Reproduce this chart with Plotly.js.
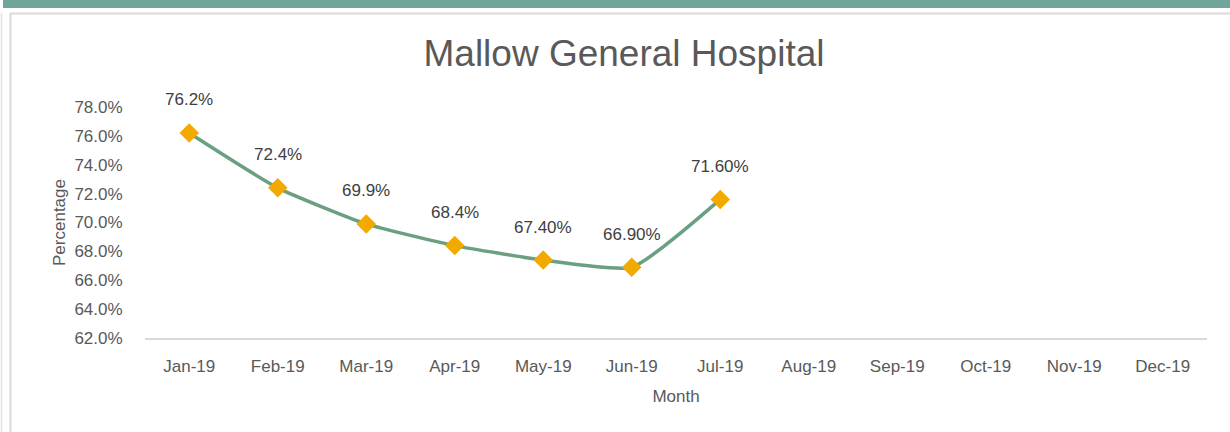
<!DOCTYPE html>
<html>
<head>
<meta charset="utf-8">
<script src="https://cdn.plot.ly/plotly-3.0.1.min.js"></script>
<style>html,body{margin:0;padding:0;background:#fff;}#chart{width:1230px;height:432px;}</style>
</head>
<body>
<div id="chart"></div>
<script>
const months = ["Jan-19","Feb-19","Mar-19","Apr-19","May-19","Jun-19","Jul-19","Aug-19","Sep-19","Oct-19","Nov-19","Dec-19"];
const values = [76.2, 72.4, 69.9, 68.4, 67.4, 66.9, 71.6];
const valueLabels = ["76.2%","72.4%","69.9%","68.4%","67.40%","66.90%","71.60%"];
const yTicks = [62,64,66,68,70,72,74,76,78];
const yTickLabels = ["62.0%","64.0%","66.0%","68.0%","70.0%","72.0%","74.0%","76.0%","78.0%"];

const W = 1230, H = 432;
const M = {l:145, r:23, t:107, b:94};
const pw = W - M.l - M.r, ph = H - M.t - M.b;
const px = x => (x - M.l) / pw;
const py = y => (H - M.b - y) / ph;

const narrow = '"Liberation Sans Narrow", "Arial Narrow", "Liberation Sans", Arial, sans-serif';
const txt = '#595959';

const trace = {
  x: months.slice(0, values.length),
  y: values,
  type: 'scatter',
  mode: 'lines+markers',
  line: {color: '#6a9f82', width: 3.5, shape: 'spline', smoothing: 0.5},
  marker: {symbol: 'diamond', size: 15, color: '#f2a900'},
  hoverinfo: 'skip',
  cliponaxis: false
};

const annotations = values.map((v, i) => ({
  x: months[i], y: v, xref: 'x', yref: 'y',
  text: valueLabels[i], showarrow: false,
  yshift: 33, bgcolor: '#ffffff',
  font: {family: narrow, size: 17, color: '#404040'}
}));

const shapes = [
  {type:'rect', xref:'paper', yref:'paper', x0:px(3), x1:px(1230), y0:py(8), y1:py(0), fillcolor:'#6fa59a', line:{width:0}, layer:'below'},
  {type:'line', xref:'paper', yref:'paper', x0:px(10), x1:px(1230), y0:py(13.5), y1:py(13.5), line:{color:'#d9d9d9', width:2}},
  {type:'line', xref:'paper', yref:'paper', x0:px(10.5), x1:px(10.5), y0:py(13), y1:py(432), line:{color:'#d9d9d9', width:2}},
  {type:'line', xref:'paper', yref:'paper', x0:px(1.5), x1:px(1.5), y0:py(13), y1:py(432), line:{color:'#e3e3e3', width:1.5}}
];

const layout = {
  width: W, height: H,
  margin: M,
  paper_bgcolor: '#ffffff', plot_bgcolor: '#ffffff',
  showlegend: false,
  title: {text: 'Mallow General Hospital', x: 624 / W, xref: 'container', xanchor: 'center', y: 1 - 53/H, yref: 'container', yanchor: 'middle',
          font: {family: '"Liberation Sans", Arial, sans-serif', size: 37, color: txt}},
  xaxis: {
    type: 'category', categoryarray: months, categoryorder: 'array',
    range: [-0.5, 11.5], showgrid: false, zeroline: false,
    showline: true, linecolor: '#d9d9d9', linewidth: 1.5,
    ticks: 'outside', ticklen: 12, tickcolor: 'rgba(0,0,0,0)',
    tickfont: {family: narrow, size: 17, color: txt},
    title: {text: 'Month', standoff: 15, font: {family: narrow, size: 17, color: txt}},
    automargin: false, fixedrange: true
  },
  yaxis: {
    range: [62, 78], tickvals: yTicks, ticktext: yTickLabels,
    showgrid: false, zeroline: false, showline: false,
    ticks: 'outside', ticklen: 18, tickcolor: 'rgba(0,0,0,0)',
    tickfont: {family: narrow, size: 17, color: txt},
    title: {text: 'Percentage', standoff: 4, font: {family: narrow, size: 17, color: txt}},
    automargin: false, fixedrange: true
  },
  annotations: annotations,
  shapes: shapes
};

Plotly.newPlot('chart', [trace], layout, {staticPlot: true, displayModeBar: false});
</script>
</body>
</html>
